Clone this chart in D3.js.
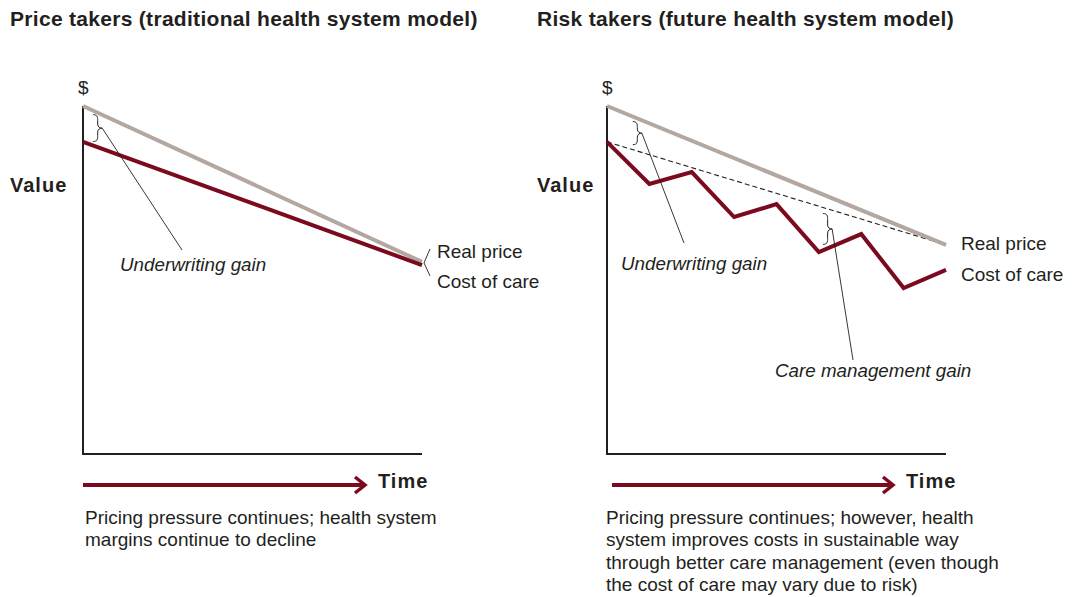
<!DOCTYPE html>
<html>
<head>
<meta charset="utf-8">
<script src="https://cdn.jsdelivr.net/npm/d3@7"></script>
<style>
  body { margin: 0; background: #fff; }
  svg text { font-family: "Liberation Sans", Arial, Helvetica, sans-serif; fill: #231f20; }
</style>
</head>
<body>
<div id="chart"></div>
<script>
// --- Data (value index 0..100, time steps 0..8) ---
const timeSteps = [0, 1, 2, 3, 4, 5, 6, 7, 8];

// Left panel: price takers
const leftRealPrice = [{ t: 0, v: 100 }, { t: 8, v: 55.2 }];
const leftCostOfCare = [{ t: 0, v: 89.7 }, { t: 8, v: 54.3 }];

// Right panel: risk takers
const rightRealPrice = [{ t: 0, v: 100 }, { t: 8, v: 60.1 }];
const rightTrend = [{ t: 0, v: 89.7 }, { t: 8, v: 60.1 }];
const rightCostValues = [89.7, 77.6, 81.0, 68.1, 71.8, 58.0, 63.2, 47.7, 52.9];

const titles = ["Price takers (traditional health system model)", "Risk takers (future health system model)"];
const captions = [
    ["Pricing pressure continues; health system", "margins continue to decline"],
    ["Pricing pressure continues; however, health", "system improves costs in sustainable way",
     "through better care management (even though", "the cost of care may vary due to risk)"]
];

const W = 1077, H = 597;
const RED = "#7b0a1e", GRAY = "#b3a79f", INK = "#231f20";

const svg = d3.select("#chart").append("svg")
    .attr("width", W)
    .attr("height", H);

const y = d3.scaleLinear().domain([0, 100]).range([454, 106]);

const panels = [
    { ox: 0, axisX: 83, endX: 422, real: leftRealPrice, cost: leftCostOfCare, trend: null },
    { ox: 527, axisX: 607, endX: 946, real: rightRealPrice,
      cost: timeSteps.map((t, i) => ({ t, v: rightCostValues[i] })), trend: rightTrend }
];

const line = (x) => d3.line().x(d => x(d.t)).y(d => y(d.v));

// interpolate a straight 2-point series at time t
function valAt(series, t) {
    for (let i = 0; i < series.length - 1; i++) {
        const a = series[i], b = series[i + 1];
        if (t >= a.t && t <= b.t) return a.v + (b.v - a.v) * (t - a.t) / (b.t - a.t);
    }
    return series[series.length - 1].v;
}

// curly brace "}" from y0 to y1 at x, tip pointing right by w
function bracePath(x, y0, y1, w) {
    const m = (y0 + y1) / 2, h = w / 2;
    return `M${x},${y0} C${x + h},${y0} ${x + h},${y0 + 3} ${x + h},${y0 + 6}`
        + ` L${x + h},${m - 4} C${x + h},${m - 1} ${x + w - 2},${m} ${x + w},${m}`
        + ` C${x + w - 2},${m} ${x + h},${m + 1} ${x + h},${m + 4}`
        + ` L${x + h},${y1 - 6} C${x + h},${y1 - 3} ${x + h},${y1} ${x},${y1}`;
}

panels.forEach((p, i) => {
    const g = svg.append("g");
    const x = d3.scaleLinear().domain([0, 8]).range([p.axisX, p.endX]);

    // Title
    g.append("text").attr("x", 10 + p.ox).attr("y", 26)
        .style("font-weight", "bold").style("font-size", "21px")
        .style("letter-spacing", "0.3px")
        .text(titles[i]);

    // Y label and $
    g.append("text").attr("x", 10 + p.ox).attr("y", 192)
        .style("font-weight", "bold").style("font-size", "20px")
        .style("letter-spacing", "1px").text("Value");
    g.append("text").attr("x", p.axisX - 5).attr("y", 94)
        .style("font-size", "19px").text("$");

    // Axes (L shape)
    g.append("path")
        .attr("d", `M${p.axisX},${y(100)} V${y(0)} H${p.endX}`)
        .attr("fill", "none").attr("stroke", INK).attr("stroke-width", 2);

    // Trend (dashed)
    if (p.trend) {
        g.append("path").datum(p.trend)
            .attr("d", line(x))
            .attr("fill", "none").attr("stroke", INK)
            .attr("stroke-width", 1.1).attr("stroke-dasharray", "5,3");
    }

    // Real price
    g.append("path").datum(p.real)
        .attr("d", line(x))
        .attr("fill", "none").attr("stroke", GRAY).attr("stroke-width", 4);

    // Cost of care
    g.append("path").datum(p.cost)
        .attr("d", line(x))
        .attr("fill", "none").attr("stroke", RED).attr("stroke-width", 4)
        .attr("stroke-linejoin", "miter");

    // Time arrow
    const ay = 485;
    const ax = p.axisX + (i ? 286 : 282);
    g.append("line").attr("x1", p.axisX + (i ? 5 : 0)).attr("x2", ax)
        .attr("y1", ay).attr("y2", ay)
        .attr("stroke", RED).attr("stroke-width", 4);
    g.append("path")
        .attr("d", `M${ax - 10},${ay - 8} L${ax},${ay} L${ax - 10},${ay + 8}`)
        .attr("fill", "none").attr("stroke", RED).attr("stroke-width", 3.5);
    g.append("text").attr("x", ax + 13).attr("y", ay + 3)
        .style("font-weight", "bold").style("font-size", "20px")
        .style("letter-spacing", "1px").text("Time");

    // Captions
    g.append("text").attr("y", 524)
        .style("font-size", "19px")
        .selectAll("tspan").data(captions[i]).join("tspan")
        .attr("x", p.axisX + (i ? -1 : 2))
        .attr("dy", (d, k) => k === 0 ? 0 : 22.4)
        .text(d => d);
});

// --- Annotations ---
const xl = d3.scaleLinear().domain([0, 8]).range([83, 422]);
const xr = d3.scaleLinear().domain([0, 8]).range([607, 946]);

function brace(x, t, top, bottom, inset, target, label, labelPos) {
    const bx = x(t);
    const y0 = y(top) + inset, y1 = y(bottom) - inset;
    svg.append("path").attr("d", bracePath(bx, y0, y1, 9))
        .attr("fill", "none").attr("stroke", INK).attr("stroke-width", 1);
    svg.append("line")
        .attr("x1", bx + 9).attr("y1", (y0 + y1) / 2)
        .attr("x2", target[0]).attr("y2", target[1])
        .attr("stroke", INK).attr("stroke-width", 0.9);
    svg.append("text").attr("x", labelPos[0]).attr("y", labelPos[1])
        .style("font-style", "italic").style("font-size", "18.8px").text(label);
}

brace(xl, 0.24, valAt(leftRealPrice, 0.24), valAt(leftCostOfCare, 0.24), 4,
    [182, 250], "Underwriting gain", [120, 271]);
brace(xr, 0.61, valAt(rightRealPrice, 0.61), valAt(rightTrend, 0.61), 5,
    [684, 243], "Underwriting gain", [621, 270]);
brace(xr, 5.1, valAt(rightTrend, 5.1), 58.5, 6,
    [853, 360], "Care management gain", [775, 377]);

// Line labels
const endL = [xl(8), y(valAt(leftRealPrice, 8))];
svg.append("path")
    .attr("d", `M${endL[0] + 8},${endL[1] - 13} L${endL[0] + 2},${endL[1] + 1} L${endL[0] + 8},${endL[1] + 14}`)
    .attr("fill", "none").attr("stroke", INK).attr("stroke-width", 0.9);
const lab = (x, yy, t) => svg.append("text").attr("x", x).attr("y", yy)
    .style("font-size", "19px").text(t);
lab(437, 258, "Real price");
lab(437, 288, "Cost of care");
lab(961, 250, "Real price");
lab(961, 281, "Cost of care");
</script>
</body>
</html>
